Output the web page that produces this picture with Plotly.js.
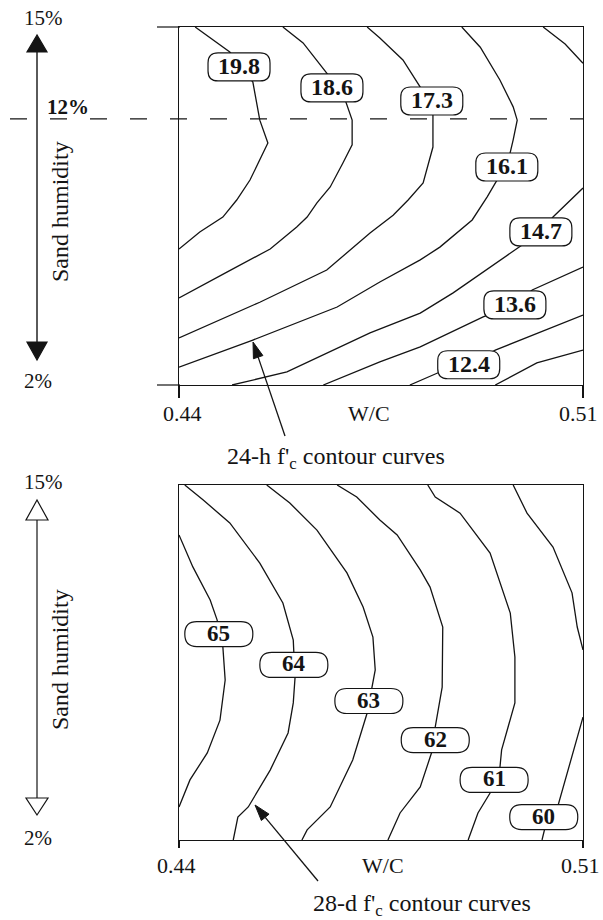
<!DOCTYPE html>
<html>
<head>
<meta charset="utf-8">
<script src="https://cdn.plot.ly/plotly-3.0.1.min.js"></script>
<style>
  html, body { margin: 0; padding: 0; background: #ffffff; }
  #chart { width: 603px; height: 920px; }
</style>
</head>
<body>
<div id="chart"></div>
<script>
// ---- W/C axis ----
const wcTicks = [0.44, 0.51];
const wcTickText = ['0.44', '0.51'];
const humidityMark = 12;           // dashed reference humidity (%)

// ---- 24-h f'c contours : W/C (x) vs sand humidity % (y) ----
const levels24h = ['19.8', '18.6', '17.3', '16.1', '14.7', '13.6', '12.4'];
const wc24_198 = [0.4428, 0.4488, 0.4528, 0.4540, 0.4554, 0.4523, 0.4500, 0.4476, 0.4436, 0.4400];
const hum24_198 = [15.45, 14.51, 13.38, 11.95, 11.09, 9.70, 8.95, 8.31, 7.75, 7.11];
const wc24_186 = [0.4580, 0.4615, 0.4656, 0.4688, 0.4700, 0.4700, 0.4684, 0.4662, 0.4639, 0.4622, 0.4604, 0.4558, 0.4483, 0.4400];
const hum24_186 = [15.45, 14.85, 13.72, 12.71, 11.95, 11.02, 10.34, 9.44, 8.84, 8.31, 7.94, 7.11, 6.24, 5.27];
const wc24_173 = [0.4726, 0.4748, 0.4788, 0.4818, 0.4840, 0.4840, 0.4823, 0.4797, 0.4771, 0.4731, 0.4656, 0.4540, 0.4400];
const hum24_173 = [15.45, 15.04, 14.21, 13.19, 12.14, 10.94, 9.59, 8.95, 8.38, 7.71, 6.32, 5.11, 3.77];
const wc24_161 = [0.4890, 0.4922, 0.4956, 0.4979, 0.4986, 0.4979, 0.4968, 0.4951, 0.4934, 0.4908, 0.4852, 0.4818, 0.4748, 0.4674, 0.4528, 0.4400];
const hum24_161 = [15.45, 14.69, 13.46, 12.45, 11.95, 11.21, 10.19, 9.70, 9.07, 8.20, 7.18, 6.70, 5.87, 4.93, 3.69, 2.67];
const wc24_147 = [0.5031, 0.5069, 0.5100, null, 0.5100, 0.5048, 0.5027, 0.4987, 0.4875, 0.4818, 0.4731, 0.4587, 0.4492];
const hum24_147 = [15.45, 14.81, 14.09, null, 9.40, 8.31, 7.75, 7.14, 5.46, 4.70, 3.96, 2.49, 2.00];
const wc24_136 = [0.5100, 0.5012, 0.4982, 0.4927, 0.4818, 0.4748, 0.4650];
const hum24_136 = [6.43, 5.57, 5.01, 4.56, 3.43, 2.87, 2.00];
const wc24_124 = [0.5100, 0.4948, 0.4902, 0.4849, 0.4800];
const hum24_124 = [4.63, 3.31, 2.76, 2.46, 2.00];
const wc24_next = [0.5100, 0.5020, 0.4948];   // unlabelled curve below 12.4
const hum24_next = [3.31, 2.83, 2.00];

// ---- 28-d f'c contours ----
const levels28d = ['65', '64', '63', '62', '61', '60'];
const wc28_65 = [0.4400, 0.4424, 0.4454, 0.4466, 0.4476, 0.4480, 0.4471, 0.4449, 0.4419, 0.4400];
const hum28_65 = [13.17, 12.00, 10.79, 10.06, 9.07, 7.86, 6.39, 5.19, 4.20, 3.21];
const wc28_64 = [0.4410, 0.4442, 0.4488, 0.4540, 0.4580, 0.4598, 0.4601, 0.4598, 0.4589, 0.4558, 0.4520, 0.4502, 0.4494];
const hum28_64 = [15.00, 14.45, 13.61, 12.14, 10.68, 9.32, 7.93, 7.02, 5.92, 4.56, 3.21, 2.84, 2.00];
const wc28_63 = [0.4552, 0.4592, 0.4639, 0.4691, 0.4719, 0.4736, 0.4740, 0.4734, 0.4726, 0.4701, 0.4662, 0.4622, 0.4613];
const hum28_63 = [15.00, 14.34, 13.35, 11.78, 10.53, 9.43, 8.23, 7.60, 6.65, 4.93, 3.21, 2.37, 2.00];
const wc28_62 = [0.4674, 0.4708, 0.4748, 0.4778, 0.4818, 0.4835, 0.4857, 0.4857, 0.4856, 0.4844, 0.4838, 0.4818, 0.4783, 0.4762];
const hum28_62 = [15.00, 14.56, 13.72, 13.17, 11.89, 11.26, 9.80, 8.23, 7.60, 6.14, 5.22, 3.94, 2.99, 2.00];
const wc28_61 = [0.4831, 0.4844, 0.4887, 0.4939, 0.4974, 0.4982, 0.4982, 0.4959, 0.4956, 0.4939, 0.4918, 0.4901];
const hum28_61 = [15.00, 14.56, 13.97, 12.51, 10.31, 8.70, 7.02, 5.30, 4.64, 3.72, 2.99, 2.00];
const wc28_60 = [0.4979, 0.5003, 0.5048, 0.5081, 0.5090, 0.5100, null, 0.5100, 0.5083, 0.5057, 0.5034, 0.5029];
const hum28_60 = [15.00, 13.97, 12.73, 11.05, 9.80, 8.96, null, 6.50, 5.19, 3.28, 2.44, 2.00];

// ---- drawing ----
const SERIF = 'Liberation Serif, Times New Roman, serif';
const INK = '#141414';

function curve(x, y, xa, ya) {
  return {
    type: 'scatter', mode: 'lines', x: x, y: y, xaxis: xa, yaxis: ya,
    line: { color: INK, width: 1.3 }, connectgaps: false,
    hoverinfo: 'skip', showlegend: false
  };
}

const traces = [
  curve(wc24_198, hum24_198, 'x', 'y'),
  curve(wc24_186, hum24_186, 'x', 'y'),
  curve(wc24_173, hum24_173, 'x', 'y'),
  curve(wc24_161, hum24_161, 'x', 'y'),
  curve(wc24_147, hum24_147, 'x', 'y'),
  curve(wc24_136, hum24_136, 'x', 'y'),
  curve(wc24_124, hum24_124, 'x', 'y'),
  curve(wc24_next, hum24_next, 'x', 'y'),
  curve(wc28_65, hum28_65, 'x2', 'y2'),
  curve(wc28_64, hum28_64, 'x2', 'y2'),
  curve(wc28_63, hum28_63, 'x2', 'y2'),
  curve(wc28_62, hum28_62, 'x2', 'y2'),
  curve(wc28_61, hum28_61, 'x2', 'y2'),
  curve(wc28_60, hum28_60, 'x2', 'y2')
];

// where each contour value is written on its curve
const spots24h = [[0.4504, 13.95], [0.4665, 13.16], [0.4838, 12.67], [0.4968, 10.19],
                  [0.5027, 7.75], [0.4982, 5.01], [0.4902, 2.76]];
const spots28d = [[0.4469, 9.54], [0.4599, 8.41], [0.4729, 7.09], [0.4844, 5.66],
                  [0.4946, 4.20], [0.5032, 2.84]];

// rounded label box, drawn in pixels around an anchor point
function pill(xref, yref, x, y, w, h, r) {
  const a = w / 2, b = h / 2;
  const p = `M${-a + r},${-b} L${a - r},${-b} Q${a},${-b} ${a},${-b + r} L${a},${b - r} ` +
            `Q${a},${b} ${a - r},${b} L${-a + r},${b} Q${-a},${b} ${-a},${b - r} ` +
            `L${-a},${-b + r} Q${-a},${-b} ${-a + r},${-b} Z`;
  return {
    type: 'path', xref: xref, yref: yref, xsizemode: 'pixel', ysizemode: 'pixel',
    xanchor: x, yanchor: y, path: p, fillcolor: '#ffffff',
    line: { color: INK, width: 1.2 }, layer: 'above'
  };
}

function px(v) { return v / 603; }
function py(v) { return 1 - v / 920; }

const shapes = [];
const annotations = [];

levels24h.forEach((lv, i) => {
  const [x, y] = spots24h[i];
  shapes.push(pill('x', 'y', x, y, 62, 28, 10));
  annotations.push({ xref: 'x', yref: 'y', x: x, y: y, yshift: 1, text: '<b>' + lv + '</b>', showarrow: false,
    xanchor: 'center', yanchor: 'middle', font: { family: SERIF, size: 24, color: INK } });
});
levels28d.forEach((lv, i) => {
  const [x, y] = spots28d[i];
  shapes.push(pill('x2', 'y2', x, y, 68, 25, 12));
  annotations.push({ xref: 'x2', yref: 'y2', x: x, y: y, yshift: 1, text: '<b>' + lv + '</b>', showarrow: false,
    xanchor: 'center', yanchor: 'middle', font: { family: SERIF, size: 23, color: INK } });
});

// dashed humidity line across the upper panel
shapes.push({ type: 'line', xref: 'paper', yref: 'y', x0: px(10), x1: px(583),
  y0: humidityMark, y1: humidityMark, line: { color: INK, width: 1.2, dash: '17px,23px' }, layer: 'above' });

// short extensions of the upper frame to the left
shapes.push({ type: 'line', xref: 'paper', yref: 'paper', x0: px(157), x1: px(180),
  y0: py(27), y1: py(27), line: { color: INK, width: 1.2 } });
shapes.push({ type: 'line', xref: 'paper', yref: 'paper', x0: px(157), x1: px(180),
  y0: py(385), y1: py(385), line: { color: INK, width: 1.2 } });

// humidity direction arrows on the left
function tri(cx, tipY, baseY, half, filled) {
  return {
    type: 'path', xref: 'paper', yref: 'paper',
    path: `M${px(cx)},${py(tipY)} L${px(cx - half)},${py(baseY)} L${px(cx + half)},${py(baseY)} Z`,
    fillcolor: filled ? INK : '#ffffff', line: { color: INK, width: 1.2 }
  };
}
shapes.push({ type: 'line', xref: 'paper', yref: 'paper', x0: px(37), x1: px(37),
  y0: py(50), y1: py(345), line: { color: INK, width: 1.4 } });
shapes.push(tri(37, 35, 52, 10, true));
shapes.push(tri(37, 360, 342, 10, true));
shapes.push({ type: 'line', xref: 'paper', yref: 'paper', x0: px(37), x1: px(37),
  y0: py(520), y1: py(798), line: { color: INK, width: 1.2 } });
shapes.push(tri(37, 500, 520, 11, false));
shapes.push(tri(37, 815, 798, 11, false));

// pointer from a caption to the curves: shaft plus filled head (pixel coords)
function pointer(tail, head, len, half) {
  const dx = head[0] - tail[0], dy = head[1] - tail[1];
  const L = Math.hypot(dx, dy), ux = dx / L, uy = dy / L;
  const bx = head[0] - ux * len, by = head[1] - uy * len;
  const nx = -uy, ny = ux;
  shapes.push({ type: 'line', xref: 'paper', yref: 'paper',
    x0: px(tail[0]), y0: py(tail[1]), x1: px(bx), y1: py(by), line: { color: INK, width: 1.3 } });
  shapes.push({ type: 'path', xref: 'paper', yref: 'paper',
    path: `M${px(head[0])},${py(head[1])} L${px(bx + nx * half)},${py(by + ny * half)} ` +
          `L${px(bx - nx * half)},${py(by - ny * half)} Z`,
    fillcolor: INK, line: { color: INK, width: 1 } });
}
pointer([285, 436], [253, 342], 16, 5);
pointer([318, 881], [255, 805], 16, 5);

function txt(x, y, text, size, extra) {
  return Object.assign({ xref: 'paper', yref: 'paper', x: px(x), y: py(y), text: text,
    showarrow: false, xanchor: 'center', yanchor: 'middle',
    font: { family: SERIF, size: size, color: INK } }, extra || {});
}

annotations.push(txt(43, 18, '15%', 21));
annotations.push(txt(38, 381, '2%', 21));
annotations.push(txt(68, 107, '<b>12%</b>', 21));
annotations.push(txt(60, 212, 'Sand humidity', 24, { textangle: -90 }));
annotations.push(txt(43, 482, '15%', 21));
annotations.push(txt(38, 838, '2%', 21));
annotations.push(txt(60, 660, 'Sand humidity', 24, { textangle: -90 }));

// W/C tick labels and titles
const tickShift = [[3, -5], [-3, -3]];
[['x', 413], ['x2', 865]].forEach(([xr, yy], k) => {
  wcTicks.forEach((t, i) => {
    annotations.push({ xref: xr, yref: 'paper', x: t, y: py(yy), text: wcTickText[i],
      showarrow: false, xanchor: 'center', yanchor: 'middle', xshift: tickShift[k][i],
      font: { family: SERIF, size: 22, color: INK } });
  });
});
annotations.push(txt(369, 413, 'W/C', 22));
annotations.push(txt(383, 865, 'W/C', 22));

// captions
annotations.push(txt(336, 458, "24-h f'<sub>c</sub> contour curves", 24));
annotations.push(txt(422, 905, "28-d f'<sub>c</sub> contour curves", 24));

function xAxis(dom, anchor, tlen) {
  return { domain: dom, anchor: anchor, range: [0.44, 0.51], showgrid: false, zeroline: false,
    showline: true, mirror: true, linecolor: INK, linewidth: 1.3,
    tickmode: 'array', tickvals: wcTicks, ticks: 'outside', ticklen: tlen, tickwidth: 1.3,
    tickcolor: INK, showticklabels: false, fixedrange: true };
}
function yAxis(dom, anchor, range) {
  return { domain: dom, anchor: anchor, range: range, showgrid: false, zeroline: false,
    showline: true, mirror: true, linecolor: INK, linewidth: 1.3, ticks: '',
    showticklabels: false, fixedrange: true };
}

const layout = {
  width: 603, height: 920,
  margin: { l: 0, r: 0, t: 0, b: 0 },
  paper_bgcolor: '#ffffff', plot_bgcolor: '#ffffff',
  showlegend: false, hovermode: false,
  xaxis: xAxis([179 / 603, 583 / 603], 'y', 12),
  yaxis: yAxis([1 - 385 / 920, 1 - 27 / 920], 'x', [2, 15.45]),
  xaxis2: xAxis([179 / 603, 583 / 603], 'y2', 7),
  yaxis2: yAxis([1 - 840 / 920, 1 - 485 / 920], 'x2', [2, 15]),
  shapes: shapes,
  annotations: annotations
};

Plotly.newPlot('chart', traces, layout, { staticPlot: true, displayModeBar: false });
</script>
</body>
</html>
